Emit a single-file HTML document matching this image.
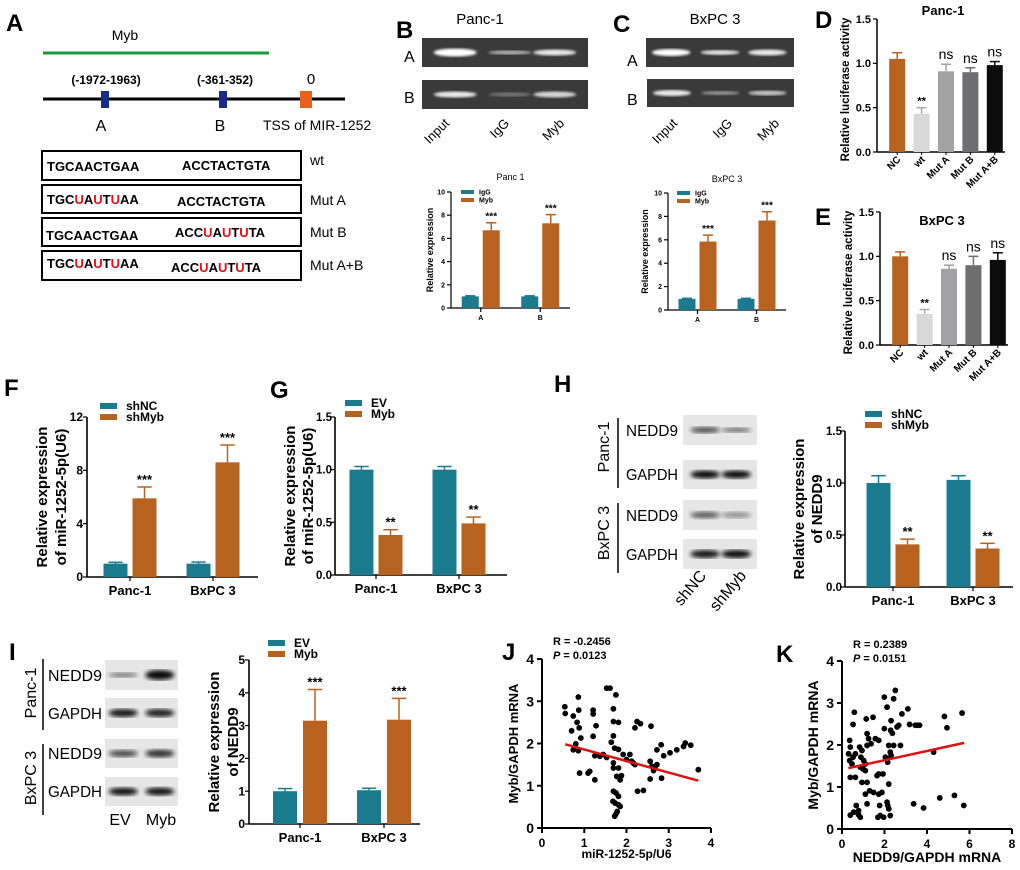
<!DOCTYPE html>
<html><head><meta charset="utf-8"><style>
html,body{margin:0;padding:0;background:#fff;}
svg{display:block;font-family:"Liberation Sans",Arial,sans-serif;}
.b{font-weight:bold}
</style></head><body>
<svg id="fig" width="1020" height="870" viewBox="0 0 1020 870" xmlns="http://www.w3.org/2000/svg">
<defs>
<filter id="blur1"><feGaussianBlur stdDeviation="1.2"/></filter>
<filter id="blur2"><feGaussianBlur stdDeviation="2"/></filter>
</defs>
<g>
<text x="6" y="31" font-size="24" class="b">A</text>
<text x="125" y="40" font-size="14" text-anchor="middle">Myb</text>
<line x1="43" y1="53" x2="269" y2="53" stroke="#1a9a3a" stroke-width="3"/>
<line x1="43" y1="99" x2="345" y2="99" stroke="#000" stroke-width="3"/>
<rect x="101" y="91" width="8" height="17" fill="#1a2a8a"/>
<rect x="219" y="91" width="8" height="17" fill="#1a2a8a"/>
<rect x="300" y="91" width="12" height="17" fill="#e8601a"/>
<text x="106" y="84" font-size="12" class="b" text-anchor="middle">(-1972-1963)</text>
<text x="225" y="84" font-size="12" class="b" text-anchor="middle">(-361-352)</text>
<text x="311" y="84" font-size="15" text-anchor="middle">0</text>
<text x="101" y="131" font-size="16" text-anchor="middle">A</text>
<text x="220" y="131" font-size="16" text-anchor="middle">B</text>
<text x="263" y="130" font-size="14">TSS of MIR-1252</text>
<g font-size="13" class="b">
<rect x="42" y="151" width="259" height="29" fill="none" stroke="#000" stroke-width="2"/>
<rect x="42" y="185" width="259" height="28" fill="none" stroke="#000" stroke-width="2"/>
<rect x="42" y="218" width="259" height="28" fill="none" stroke="#000" stroke-width="2"/>
<rect x="42" y="251" width="259" height="29" fill="none" stroke="#000" stroke-width="2"/>
<text x="47" y="171">TGCAACTGAA</text><text x="182" y="170">ACCTACTGTA</text>
<text x="47" y="204">TGC<tspan fill="#e0101a">U</tspan>A<tspan fill="#e0101a">U</tspan>T<tspan fill="#e0101a">U</tspan>AA</text><text x="177" y="206">ACCTACTGTA</text>
<text x="46" y="240">TGCAACTGAA</text><text x="175" y="237">ACC<tspan fill="#e0101a">U</tspan>A<tspan fill="#e0101a">U</tspan>T<tspan fill="#e0101a">U</tspan>TA</text>
<text x="47" y="268">TGC<tspan fill="#e0101a">U</tspan>A<tspan fill="#e0101a">U</tspan>T<tspan fill="#e0101a">U</tspan>AA</text><text x="171" y="272">ACC<tspan fill="#e0101a">U</tspan>A<tspan fill="#e0101a">U</tspan>T<tspan fill="#e0101a">U</tspan>TA</text>
</g>
<g font-size="14">
<text x="310" y="165">wt</text><text x="310" y="205">Mut A</text><text x="310" y="237">Mut B</text><text x="310" y="270">Mut A+B</text>
</g>
</g>
<g font-size="24" class="b">
<text x="396" y="38">B</text><text x="613" y="32">C</text><text x="815" y="28">D</text><text x="815" y="225">E</text>
<text x="4" y="396">F</text><text x="270" y="398">G</text><text x="554" y="392">H</text>
<text x="9" y="660">I</text><text x="502" y="660">J</text><text x="776" y="662">K</text>
</g>
<g id="dyn"></g>
</svg>
<script>
// ---- data arrays ----
const grpAB = ['A','B'];
const bIgG = [1.0, 1.0], bMyb = [6.7, 7.3], bIgGErr = [0.05,0.05], bMybErr = [0.65,0.75];
const cIgG = [0.95, 0.95], cMyb = [5.85, 7.65], cIgGErr = [0.05,0.05], cMybErr = [0.55,0.75];
const abTicks = [0,2,4,6,8,10];
const lucCats = ['NC','wt','Mut A','Mut B','Mut A+B'];
const dVals = [1.05,0.43,0.91,0.90,0.98], dErr = [0.07,0.07,0.08,0.05,0.04];
const eVals = [1.0,0.35,0.86,0.90,0.96], eErr = [0.05,0.05,0.04,0.10,0.08];
const lucStars = ['','**','ns','ns','ns'];
const lucTicks = [0,0.5,1.0,1.5];
const cellCats = ['Panc-1','BxPC 3'];
const fNC = [1.0,1.0], fMyb = [5.9,8.6], fNCErr=[0.1,0.12], fMybErr=[0.85,1.3];
const fTicks = [0,4,8,12];
const gEV = [1.0,1.0], gMyb = [0.38,0.49], gEVErr=[0.03,0.03], gMybErr=[0.05,0.06];
const gTicks = [0,0.5,1.0,1.5];
const hNC = [1.0,1.03], hMyb = [0.41,0.37], hNCErr=[0.07,0.04], hMybErr=[0.05,0.05];
const iEV = [1.0,1.03], iMyb = [3.15,3.18], iEVErr=[0.08,0.06], iMybErr=[0.95,0.65];
const iTicks = [0,1,2,3,4,5];
const jX = [0.54,0.55,0.86,0.74,0.70,0.83,0.87,0.88,0.92,0.8,0.74,0.86,0.89,1.09,1.13,1.25,1.21,1.21,1.28,1.21,1.25,1.37,1.45,1.53,1.53,1.61,1.75,1.69,1.69,1.69,1.64,1.72,1.81,1.81,1.69,1.69,1.81,1.77,1.88,1.85,1.69,1.75,1.81,1.68,1.73,1.81,1.85,1.78,1.75,1.72,1.92,2.0,2.08,2.12,2.16,2.2,2.2,2.25,2.33,2.26,2.4,2.56,2.58,2.56,2.6,2.64,2.72,2.67,2.72,2.82,2.88,2.83,3.03,3.19,3.35,3.39,3.52,3.7];
const jY = [2.87,2.71,3.1,2.65,2.3,2.5,2.79,2.37,2.13,1.99,1.85,1.83,1.30,1.30,1.34,1.14,2.79,2.7,2.42,2.17,1.71,1.70,1.74,1.67,3.31,3.31,3.15,2.82,2.52,2.18,2.03,1.89,2.5,1.86,1.54,1.42,1.42,1.22,1.24,1.14,0.87,0.83,0.75,0.63,0.59,0.55,0.51,0.39,0.33,0.28,1.74,1.62,1.74,1.58,1.54,1.5,2.37,2.52,2.47,0.87,0.89,1.16,2.41,1.58,1.46,1.36,1.5,1.42,1.85,1.97,1.71,1.18,1.78,1.85,1.93,2.01,1.96,1.38];
const jFit = [[0.55,1.98],[3.7,1.12]];
const jXTicks=[0,1,2,3,4], jYTicks=[0,1,2,3,4];
const kX = [0.39,0.55,0.78,0.67,0.78,0.86,0.39,0.36,0.31,0.36,0.52,0.63,0.47,0.39,0.63,0.58,0.52,0.83,0.94,0.89,1.02,0.86,0.99,1.1,0.94,1.18,1.14,1.18,1.25,1.37,1.18,1.1,1.1,1.3,1.49,1.18,1.46,1.57,1.73,1.65,1.73,1.73,1.88,1.77,1.69,1.8,1.96,1.99,2.12,1.99,2.04,2.12,2.15,1.93,2.2,2.2,2.12,2.15,2.2,2.27,2.31,2.43,2.51,2.29,2.37,2.43,2.27,2.31,2.59,2.67,2.75,2.82,3.1,3.18,3.45,3.56,3.65,3.37,3.84,4.31,4.6,4.82,4.94,5.29,5.65,5.73];
const kY = [0.33,0.4,0.44,0.56,0.34,0.28,1.95,2.11,1.79,1.63,1.71,1.79,1.55,1.23,1.23,2.78,2.49,1.95,1.87,1.71,1.63,1.47,1.43,1.39,1.11,1.11,2.62,2.27,2.15,2.03,1.99,1.55,0.83,0.91,0.87,0.6,2.66,2.15,2.11,1.27,1.31,0.83,0.87,0.56,0.28,0.32,0.28,3.14,2.9,2.39,1.71,1.67,1.59,1.31,1.99,1.07,0.64,0.56,0.48,0.32,2.58,3.1,3.3,2.35,2.28,1.99,1.83,1.75,2.43,2.47,1.99,2.74,2.86,2.49,2.47,2.47,2.47,0.6,0.5,1.83,0.74,2.68,2.41,0.8,2.76,0.56];
const kFit = [[0.3,1.45],[5.75,2.05]];
const kXTicks=[0,2,4,6,8], kYTicks=[0,1,2,3,4];

const NS='http://www.w3.org/2000/svg';
const root=document.getElementById('dyn');
const TEAL='#1b7b8e', ORG='#b8621f';
function el(tag,attrs,parent,txt){const e=document.createElementNS(NS,tag);for(const k in attrs)e.setAttribute(k,attrs[k]);if(txt!==undefined)e.textContent=txt;(parent||root).appendChild(e);return e;}
function mkG(name){const g=el('g',{});


return g;}

function axisY(g,c){
  el('line',{x1:c.x0,y1:c.yt,x2:c.x0,y2:c.yb,stroke:'#000','stroke-width':c.sw||1.5},g);
  el('line',{x1:c.x0,y1:c.yb,x2:c.x1,y2:c.yb,stroke:'#000','stroke-width':c.sw||1.5},g);
  const to=c.tickOff||6;
  c.ticks.forEach(t=>{const y=c.yb-(t/c.max)*(c.yb-c.yt);
    el('line',{x1:c.x0-4,y1:y,x2:c.x0,y2:y,stroke:'#000','stroke-width':1.2},g);
    const tx=el('text',{x:c.x0-to,y:y+c.fs*0.35,'font-size':c.fs,'text-anchor':'end','font-weight':c.bold?'bold':'normal'},g,c.fmt?c.fmt(t):String(t));
    
    
  });
}
function groupedChart(name,c){
  const g=mkG(name);
  axisY(g,c);
  const n=c.cats.length, gw=(c.x1-c.x0)/n, sy=v=>c.yb-(v/c.max)*(c.yb-c.yt);
  c.cats.forEach((cat,i)=>{const cx=c.centers?c.centers[i]:c.x0+(i+0.5)*gw;
    el('line',{x1:cx,y1:c.yb,x2:cx,y2:c.yb+4,stroke:'#000','stroke-width':1.2},g);
    const t=el('text',{x:cx,y:c.yb+c.xfs+5,'font-size':c.xfs,'text-anchor':'middle','font-weight':'bold'},g,cat);
    
    
    c.series.forEach((s,j)=>{const bx=cx+(j===0?-c.off-c.bw/2:c.off-c.bw/2);const v=s.vals[i],e=s.err[i];
      el('line',{x1:bx+c.bw/2,y1:sy(v),x2:bx+c.bw/2,y2:sy(v+e),stroke:s.color,'stroke-width':1.5},g);
      el('line',{x1:bx+c.bw/2-c.bw*0.3,y1:sy(v+e),x2:bx+c.bw/2+c.bw*0.3,y2:sy(v+e),stroke:s.color,'stroke-width':1.5},g);
      const r=el('rect',{x:bx,y:sy(v),width:c.bw,height:c.yb-sy(v),fill:s.color},g);
      
      
      if(s.stars){el('text',{x:bx+c.bw/2,y:sy(v+e)-3,'font-size':c.sfs,'text-anchor':'middle','font-weight':'bold'},g,s.stars[i]);}
    });
  });
  c.series.forEach((s,j)=>{const ly=c.ly+j*c.lgap;
    el('rect',{x:c.lx,y:ly-c.lh/2,width:c.lw,height:c.lh,fill:s.color},g);
    const t=el('text',{x:c.lx+c.lw+c.ltg,y:ly+c.lfs*0.35,'font-size':c.lfs,'font-weight':'bold'},g,s.name);
    
    
  });
  const yl=el('text',{transform:`translate(${c.ytx},${(c.yb+c.yt)/2}) rotate(-90)`,'font-size':c.yfs,'text-anchor':'middle','font-weight':'bold'},g);
  
  
  c.ytitle.forEach((l,k)=>{el('tspan',{x:0,y:k*c.ygap},yl,l);});
  if(c.title){const t=el('text',{x:(c.x0+c.x1)/2,y:c.titleY,'font-size':c.tfs,'text-anchor':'middle','font-weight':c.tbold?'bold':'normal'},g,c.title);
    }
}
function lucChart(name,c,vals,err){
  const g=mkG(name);
  axisY(g,Object.assign({},c,{ticks:lucTicks,max:1.5,fs:11,bold:true,fmt:t=>t.toFixed(1)}));
  const colors=['#b8621f','#d8d8d8','#a2a2a5','#6e6e71','#0c0c0c'];
  const n=lucCats.length,gw=(c.x1-c.x0-6)/n,sy=v=>c.yb-(v/1.5)*(c.yb-c.yt),bw=16;
  lucCats.forEach((cat,i)=>{const cx=c.x0+8+(i+0.5)*gw;
    const ec=colors[i]==='#d8d8d8'?'#aaa':colors[i];
    el('line',{x1:cx,y1:sy(vals[i]),x2:cx,y2:sy(vals[i]+err[i]),stroke:ec,'stroke-width':1.5},g);
    el('line',{x1:cx-5,y1:sy(vals[i]+err[i]),x2:cx+5,y2:sy(vals[i]+err[i]),stroke:ec,'stroke-width':1.5},g);
    const r=el('rect',{x:cx-bw/2,y:sy(vals[i]),width:bw,height:c.yb-sy(vals[i]),fill:colors[i]},g);
    
    
    const st=lucStars[i];
    if(st) el('text',{x:cx,y:sy(vals[i]+err[i])-(st==='ns'?5:3),'font-size':st==='ns'?14:11,'text-anchor':'middle','font-weight':st==='ns'?'normal':'bold'},g,st);
    el('line',{x1:cx,y1:c.yb,x2:cx,y2:c.yb+3,stroke:'#000'},g);
    const t=el('text',{transform:`translate(${cx+4},${c.yb+8}) rotate(-45)`,'font-size':10,'text-anchor':'end','font-weight':'bold'},g,cat);
    
  });
  el('text',{transform:`translate(${c.x0-28},${(c.yb+c.yt)/2+4}) rotate(-90)`,'font-size':11.5,'text-anchor':'middle','font-weight':'bold'},g,'Relative luciferase activity');
  el('text',{x:c.titleX,y:c.titleY,'font-size':13,'text-anchor':'middle','font-weight':'bold'},g,c.title);
}
function scatter(name,c,xs,ys,fit){
  const g=mkG(name);
  const sx=v=>c.x0+v/c.xmax*(c.x1-c.x0), sy=v=>c.yb-v/c.ymax*(c.yb-c.yt);
  el('line',{x1:c.x0,y1:c.yt,x2:c.x0,y2:c.yb,stroke:'#000','stroke-width':2},g);
  el('line',{x1:c.x0,y1:c.yb,x2:c.x1,y2:c.yb,stroke:'#000','stroke-width':2},g);
  c.yticks.forEach(t=>{const y=sy(t);el('line',{x1:c.x0-5,y1:y,x2:c.x0,y2:y,stroke:'#000','stroke-width':2},g);
    el('text',{x:c.x0-8,y:y+5,'font-size':14,'text-anchor':'end','font-weight':'bold'},g,String(t));});
  c.xticks.forEach(t=>{const x=sx(t);el('line',{x1:x,y1:c.yb,x2:x,y2:c.yb+5,stroke:'#000','stroke-width':2},g);
    el('text',{x:x,y:c.yb+19,'font-size':12,'text-anchor':'middle','font-weight':'bold'},g,String(t));});
  xs.forEach((x,i)=>{const p=el('circle',{cx:sx(x),cy:sy(ys[i]),r:2.9,fill:'#000'},g);
    
    });
  const ln=el('line',{x1:sx(fit[0][0]),y1:sy(fit[0][1]),x2:sx(fit[1][0]),y2:sy(fit[1][1]),stroke:'#e01010','stroke-width':2.5},g);
  
  el('text',{transform:`translate(${c.x0-24},${(c.yb+c.yt)/2}) rotate(-90)`,'font-size':c.yfs,'text-anchor':'middle','font-weight':'bold'},g,'Myb/GAPDH mRNA');
  el('text',{x:(c.x0+c.x1)/2,y:c.xty,'font-size':c.xfs,'text-anchor':'middle','font-weight':'bold'},g,c.xtitle);
  el('text',{x:c.x0+11,y:c.rty,'font-size':11,'font-weight':'bold'},g,c.r);
  const pt=el('text',{x:c.x0+11,y:c.rty+14,'font-size':11,'font-weight':'bold'},g);
  el('tspan',{'font-style':'italic'},pt,'P');el('tspan',{},pt,c.p);
}
function gel(name,x,y,w,h,bands){const g=mkG(name);
  el('rect',{x:x,y:y,width:w,height:h,fill:'#3a3a3a'},g);
  bands.forEach(b=>el('ellipse',{cx:x+b[0]*w,cy:y+h*0.5,rx:w*0.13,ry:b[1],fill:'#fff',opacity:b[2],filter:'url(#blur1)'},g));}
function blot(name,x,y,w,h,bands){const g=mkG(name);
  el('rect',{x:x,y:y,width:w,height:h,fill:'#e6e6e6'},g);
  bands.forEach(b=>el('ellipse',{cx:x+b[0]*w,cy:y+h*0.5,rx:w*0.2,ry:b[1],fill:'#111',opacity:b[2],filter:'url(#blur2)'},g));}

el('text',{x:480,y:24,'font-size':15,'text-anchor':'middle'},root,'Panc-1');
el('text',{x:404,y:62,'font-size':16},root,'A');el('text',{x:404,y:103,'font-size':16},root,'B');
gel('gel-b-a',422,38,166,29,[[0.2,4,1],[0.53,2,0.6],[0.8,3,0.9]]);
gel('gel-b-b',422,80,166,29,[[0.2,3,0.9],[0.53,2,0.3],[0.8,3,0.8]]);
[['Input',450],['IgG',510],['Myb',565]].forEach(a=>el('text',{transform:`translate(${a[1]},${124}) rotate(-45)`,'font-size':13,'text-anchor':'end'},root,a[0]));
el('text',{x:715,y:24,'font-size':15,'text-anchor':'middle'},root,'BxPC 3');
el('text',{x:627,y:66,'font-size':16},root,'A');el('text',{x:627,y:105,'font-size':16},root,'B');
gel('gel-c-a',646,38,148,29,[[0.17,3.5,1],[0.5,2.5,0.85],[0.82,3,0.9]]);
gel('gel-c-b',647,79,147,28,[[0.17,3,0.9],[0.5,2,0.45],[0.82,2.5,0.7]]);
[['Input',678],['IgG',733],['Myb',780]].forEach(a=>el('text',{transform:`translate(${a[1]},${124}) rotate(-45)`,'font-size':13,'text-anchor':'end'},root,a[0]));

const smallCfg={max:10,ticks:abTicks,fs:7,bold:true,xfs:7,sfs:10,bw:17,off:10.5,lw:13,lh:4,lfs:7,lgap:8,ltg:5,yfs:9,ygap:10,tfs:9,sw:1.2};
groupedChart('chart-b',Object.assign({},smallCfg,{x0:451,x1:570,yb:308,yt:192,cats:grpAB,
  series:[{name:'IgG',vals:bIgG,err:bIgGErr,color:TEAL},{name:'Myb',vals:bMyb,err:bMybErr,color:ORG,stars:['***','***']}],
  lx:461,ly:192,ytx:433,ytitle:['Relative expression'],title:'Panc 1',titleY:180}));
groupedChart('chart-c',Object.assign({},smallCfg,{x0:668,x1:786,yb:310,yt:193,cats:grpAB,
  series:[{name:'IgG',vals:cIgG,err:cIgGErr,color:TEAL},{name:'Myb',vals:cMyb,err:cMybErr,color:ORG,stars:['***','***']}],
  lx:677,ly:193,ytx:648,ytitle:['Relative expression'],title:'BxPC 3',titleY:182}));
lucChart('chart-d',{x0:877,x1:1005,yb:152,yt:19,title:'Panc-1',titleX:943,titleY:15},dVals,dErr);
lucChart('chart-e',{x0:880,x1:1008,yb:345,yt:212,title:'BxPC 3',titleX:942,titleY:225},eVals,eErr);

const midCfg={bold:true,fs:12,tickOff:4,xfs:13,sfs:13,lw:17,lh:6,lfs:12,lgap:11,ltg:9,yfs:15,ygap:19,sw:1.6,bw:24};
groupedChart('chart-f',Object.assign({},midCfg,{x0:87,x1:258,yb:577,yt:417,max:12,ticks:fTicks,cats:cellCats,centers:[130,213],off:14.5,
  series:[{name:'shNC',vals:fNC,err:fNCErr,color:TEAL},{name:'shMyb',vals:fMyb,err:fMybErr,color:ORG,stars:['***','***']}],
  lx:100,ly:406,ytx:47,ytitle:['Relative expression','of miR-1252-5p(U6)']}));
groupedChart('chart-g',Object.assign({},midCfg,{x0:335,x1:507,yb:575,yt:417,max:1.5,ticks:gTicks,fmt:t=>t.toFixed(1),cats:cellCats,centers:[376,459],off:14.5,fs:11.5,tickOff:3,
  series:[{name:'EV',vals:gEV,err:gEVErr,color:TEAL},{name:'Myb',vals:gMyb,err:gMybErr,color:ORG,stars:['**','**']}],
  lx:345,ly:403,ytx:295,ygap:18,ytitle:['Relative expression','of miR-1252-5p(U6)']}));
groupedChart('chart-h',Object.assign({},midCfg,{x0:845,x1:1013,yb:587,yt:431,max:1.5,ticks:gTicks,fmt:t=>t.toFixed(1),cats:cellCats,centers:[893,973],off:14.5,fs:11.5,tickOff:3,
  series:[{name:'shNC',vals:hNC,err:hNCErr,color:TEAL},{name:'shMyb',vals:hMyb,err:hMybErr,color:ORG,stars:['**','**']}],
  lx:865,ly:414,ytx:804,ygap:18,ytitle:['Relative expression','of NEDD9']}));
groupedChart('chart-i',Object.assign({},midCfg,{x0:249,x1:420,yb:824,yt:660,max:5,ticks:iTicks,cats:cellCats,centers:[300,384],off:15,
  series:[{name:'EV',vals:iEV,err:iEVErr,color:TEAL},{name:'Myb',vals:iMyb,err:iMybErr,color:ORG,stars:['***','***']}],
  lx:268,ly:643,ytx:219,ytitle:['Relative expression','of NEDD9']}));

blot('blot-h-nedd9-panc',683,415,74,30,[[0.3,3,0.7],[0.72,2.5,0.55]]);
blot('blot-h-gapdh-panc',683,460,74,29,[[0.3,4,1],[0.72,4,1]]);
blot('blot-h-nedd9-bxpc',683,500,74,30,[[0.3,3.5,0.6],[0.72,3,0.4]]);
blot('blot-h-gapdh-bxpc',683,539,74,30,[[0.3,4,0.95],[0.72,4,1]]);
[['NEDD9',436],['GAPDH',480],['NEDD9',521],['GAPDH',560]].forEach(a=>el('text',{x:626,y:a[1],'font-size':16,textLength:52,lengthAdjust:'spacingAndGlyphs'},root,a[0]));
el('line',{x1:618,y1:418,x2:618,y2:488,stroke:'#000','stroke-width':1.5});
el('line',{x1:618,y1:503,x2:618,y2:573,stroke:'#000','stroke-width':1.5});
el('text',{transform:'translate(609,447) rotate(-90)','font-size':16,'text-anchor':'middle'},root,'Panc-1');
el('text',{transform:'translate(609,533) rotate(-90)','font-size':16,'text-anchor':'middle'},root,'BxPC 3');
el('text',{transform:'translate(707,576) rotate(-50)','font-size':16,'text-anchor':'end'},root,'shNC');
el('text',{transform:'translate(747,576) rotate(-50)','font-size':16,'text-anchor':'end'},root,'shMyb');
blot('blot-i-nedd9-panc',105,660,73,30,[[0.25,2.5,0.5],[0.75,5,1]]);
blot('blot-i-gapdh-panc',105,698,73,30,[[0.25,4,0.95],[0.75,4,0.9]]);
blot('blot-i-nedd9-bxpc',105,739,73,29,[[0.25,3.5,0.7],[0.75,4,0.8]]);
blot('blot-i-gapdh-bxpc',105,777,73,29,[[0.25,4,0.95],[0.75,4,0.95]]);
[['NEDD9',681],['GAPDH',719],['NEDD9',759],['GAPDH',797]].forEach(a=>el('text',{x:48,y:a[1],'font-size':16,textLength:54,lengthAdjust:'spacingAndGlyphs'},root,a[0]));
el('line',{x1:43,y1:659,x2:43,y2:730,stroke:'#000','stroke-width':1.5});
el('line',{x1:43,y1:744,x2:43,y2:815,stroke:'#000','stroke-width':1.5});
el('text',{transform:'translate(36,693) rotate(-90)','font-size':16,'text-anchor':'middle'},root,'Panc-1');
el('text',{transform:'translate(36,778) rotate(-90)','font-size':16,'text-anchor':'middle'},root,'BxPC 3');
el('text',{x:120,y:825,'font-size':16,'text-anchor':'middle'},root,'EV');
el('text',{x:161,y:825,'font-size':16,'text-anchor':'middle'},root,'Myb');

scatter('scatter-j',{x0:542,x1:711,yb:828,yt:659,xmax:4,ymax:4,xticks:jXTicks,yticks:jYTicks,yfs:13,xfs:12,xtitle:'miR-1252-5p/U6',xty:858,r:'R = -0.2456',p:' = 0.0123',rty:645},jX,jY,jFit);
scatter('scatter-k',{x0:842,x1:1012,yb:829,yt:661,xmax:8,ymax:4,xticks:kXTicks,yticks:kYTicks,yfs:14,xfs:14,xtitle:'NEDD9/GAPDH mRNA',xty:862,r:'R = 0.2389',p:' = 0.0151',rty:648},kX,kY,kFit);
</script>
</body></html>
